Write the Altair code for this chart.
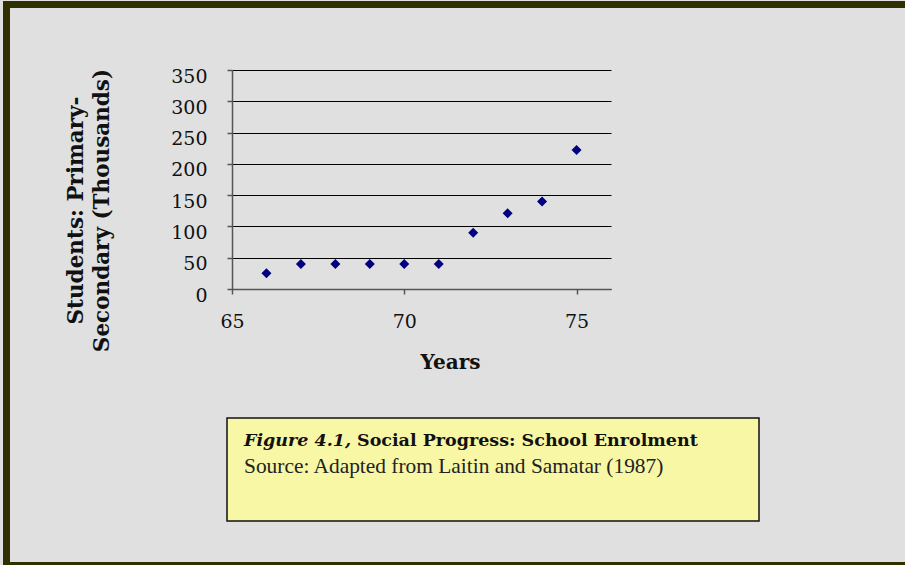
import altair as alt
import pandas as pd

years = [66, 67, 68, 69, 70, 71, 72, 73, 74, 75]
students = [25, 40, 40, 40, 40, 40, 90, 121, 140, 222]
x_ticks = [65, 70, 75]
y_ticks = [0, 50, 100, 150, 200, 250, 300, 350]

x_title = "Years"
y_title = ["Students: Primary-", "Secondary (Thousands)"]
caption_italic = "Figure 4.1,"
caption_bold = "Social Progress: School Enrolment"
caption_source = "Source: Adapted from Laitin and Samatar (1987)"

df = pd.DataFrame({"year": years, "students": students})
one = pd.DataFrame({"k": [0]})

# plot area origin in page pixels
OX, OY = 232, 70
W, H = 379, 219
FRAME = "#2f2f00"

def deco_rect(x1, y1, x2, y2, **kw):
    return alt.Chart(one).mark_rect(**kw).encode(
        x=alt.value(x1 - OX), x2=alt.value(x2 - OX),
        y=alt.value(y1 - OY), y2=alt.value(y2 - OY))

def deco_text(txt, px, py, **kw):
    return alt.Chart(one).mark_text(text=txt, align="left", baseline="alphabetic", **kw).encode(
        x=alt.value(px - OX), y=alt.value(py - OY))

frame_top = deco_rect(3, 1, 905, 8, color=FRAME)
frame_left = deco_rect(3, 1, 10, 565, color=FRAME)
frame_bottom = deco_rect(3, 562, 905, 565, color=FRAME)

box = deco_rect(227, 418, 759, 521, fill="#f7f7a6", stroke="#111111", strokeWidth=1.5)

t1 = deco_text(caption_italic, 244, 446, font="DejaVu Serif", fontSize=17.5,
               fontWeight="bold", fontStyle="italic", color="#111111")
t2 = deco_text(caption_bold, 357, 446, font="DejaVu Serif", fontSize=17.5,
               fontWeight="bold", color="#111111")
t3 = deco_text(caption_source, 244, 473, font="Liberation Serif", fontSize=21.4,
               color="#222222")

points = alt.Chart(df).mark_point(shape="diamond", filled=True, size=100,
                                   color="#000080", opacity=1).encode(
    x=alt.X("year:Q",
            scale=alt.Scale(domain=[65, 76], nice=False, zero=False),
            axis=alt.Axis(values=x_ticks, grid=False, title=x_title,
                          labelFont="DejaVu Serif", labelFontSize=19, labelColor="#111111",
                          labelPadding=18, labelFlush=False,
                          titleFont="DejaVu Serif", titleFontSize=20, titleFontWeight="bold",
                          titleColor="#111111", titleX=218, titleY=73,
                          titleBaseline="middle", titleAlign="center",
                          domainColor="#555555", domainWidth=1.5,
                          tickColor="#555555", tickSize=5, tickWidth=1.5)),
    y=alt.Y("students:Q",
            scale=alt.Scale(domain=[0, 350], nice=False),
            axis=alt.Axis(values=y_ticks, grid=True, gridColor="#000000", gridWidth=1,
                          gridOpacity=1, title=y_title,
                          labelFont="DejaVu Serif", labelFontSize=19, labelColor="#111111",
                          labelPadding=20, labelBaseline="middle", labelOffset=6,
                          labelFlush=False,
                          titleFont="DejaVu Serif", titleFontSize=21.5, titleFontWeight="bold",
                          titleColor="#111111", titleAngle=270, titleX=-167, titleY=140,
                          titleAlign="center", titleBaseline="top", titleLineHeight=26,
                          domainColor="#555555", domainWidth=1.5,
                          tickColor="#555555", tickSize=5, tickWidth=1.5)),
)

chart = alt.layer(frame_top, frame_left, frame_bottom, box, points, t1, t2, t3).properties(
    width=W, height=H,
    autosize=alt.AutoSizeParams(type="none"),
    padding={"left": OX, "top": OY, "right": 905 - OX - W, "bottom": 565 - OY - H},
    background="#e0e0e0",
).configure_view(stroke=None)

chart.save("out.html", embed_options={"renderer": "svg", "actions": False})
